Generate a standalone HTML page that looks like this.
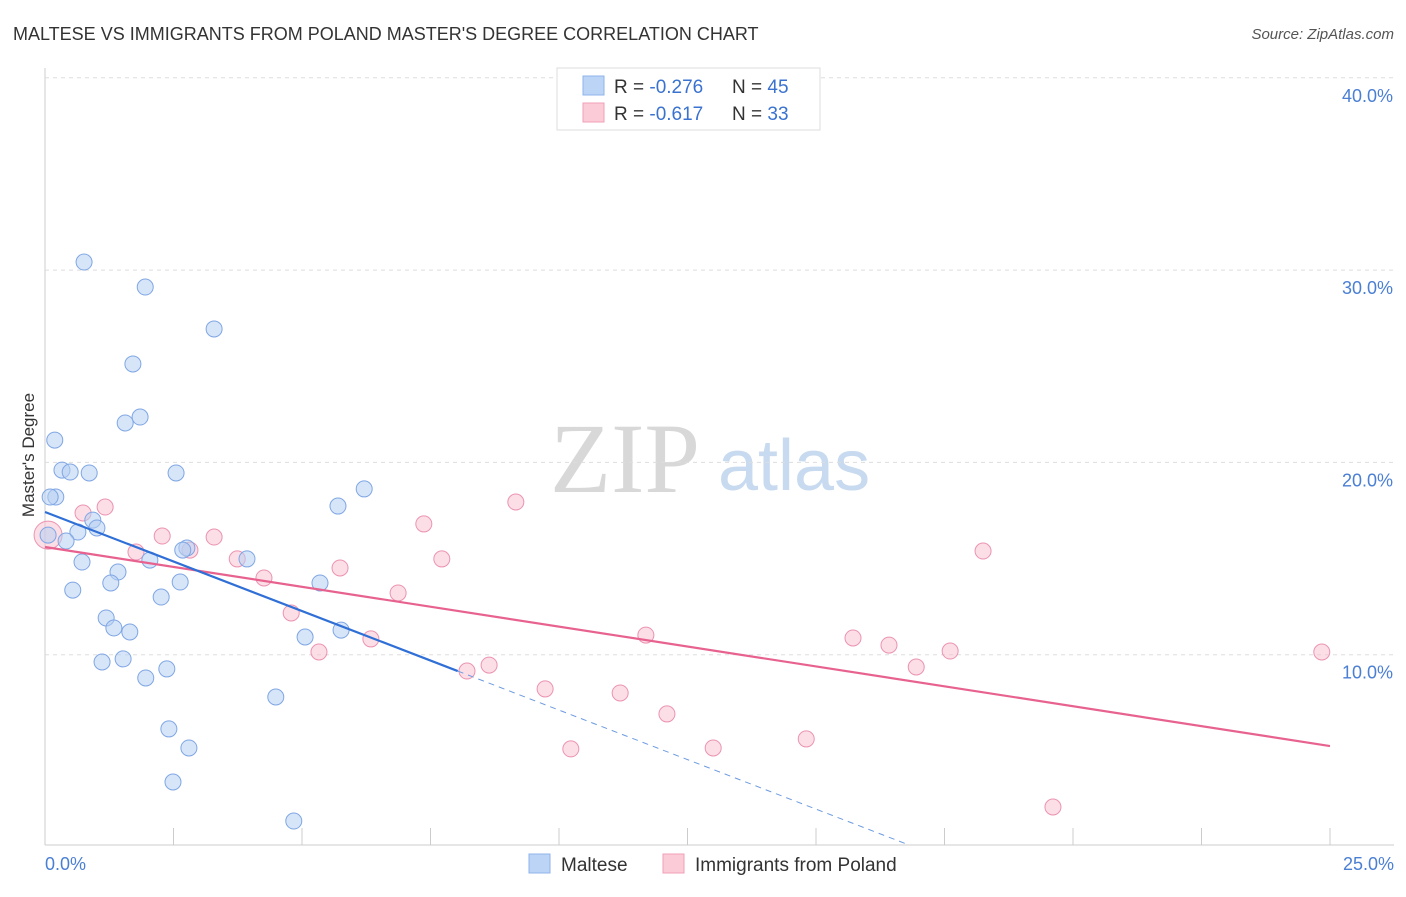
<!DOCTYPE html>
<html><head><meta charset="utf-8"><style>
body{margin:0;background:#fff;font-family:"Liberation Sans",sans-serif;}
svg text{font-family:"Liberation Sans",sans-serif;}
</style></head><body>
<svg id="chart" width="1406" height="892">
<text x="13" y="40" font-size="18" fill="#333">MALTESE VS IMMIGRANTS FROM POLAND MASTER'S DEGREE CORRELATION CHART</text>
<text x="1394" y="39" font-size="15" fill="#555" font-style="italic" text-anchor="end">Source: ZipAtlas.com</text>
<text x="700" y="492" font-size="100" fill="#d8d8d8" font-family="Liberation Serif" text-anchor="end" style="font-family:'Liberation Serif',serif">ZIP</text>
<text x="718" y="490" font-size="72" fill="#c8daf0">atlas</text>
<g id="grid"></g>
<g id="marks"></g>
<text transform="translate(34,455) rotate(-90)" font-size="17" fill="#333" text-anchor="middle">Master's Degree</text>
<text x="45" y="870" font-size="18" fill="#4a7fd4">0.0%</text>
<text x="1394" y="870" font-size="18" fill="#4a7fd4" text-anchor="end">25.0%</text>
<g>
<rect x="557" y="68" width="263" height="62" fill="#fff" stroke="#ddd"/>
<rect x="583" y="76" width="21" height="19" fill="#bcd4f5" stroke="#8fb3ea"/>
<rect x="583" y="103" width="21" height="19" fill="#fbcbd8" stroke="#f0a0b8"/>
<text x="614" y="93" font-size="19" fill="#333">R = <tspan fill="#3a72d0">-0.276</tspan></text>
<text x="732" y="93" font-size="19" fill="#333">N = <tspan fill="#3a72d0">45</tspan></text>
<text x="614" y="120" font-size="19" fill="#333">R = <tspan fill="#3a72d0"> -0.617</tspan></text>
<text x="732" y="120" font-size="19" fill="#333">N = <tspan fill="#3a72d0"> 33</tspan></text>
</g>
<g>
<rect x="529" y="854" width="21" height="19" fill="#bcd4f5" stroke="#8fb3ea"/>
<text x="561" y="871" font-size="19" fill="#333">Maltese</text></g>
<g>
<rect x="663" y="854" width="21" height="19" fill="#fbcbd8" stroke="#f0a0b8"/>
<text x="695" y="871" font-size="19" fill="#333">Immigrants from Poland</text></g>
</svg>
<script>
const yTicks=[10,20,30,40];
const yTickLabels=["10.0%","20.0%","30.0%","40.0%"];
const xTicks=[0,2.5,5,7.5,10,12.5,15,17.5,20,22.5,25];
const malteseX=[0.76,1.95,3.29,1.71,1.85,1.56,0.19,0.33,0.49,0.86,2.55,0.21,0.10,6.21,5.70,0.93,1.01,0.64,0.41,0.06,2.76,2.68,2.04,3.93,0.72,1.42,1.28,2.63,5.35,0.54,2.26,1.19,1.34,1.65,5.76,5.06,1.11,1.52,2.37,1.96,4.49,2.41,2.80,2.49,4.84];
const malteseY=[30.42,29.12,26.94,25.12,22.36,22.05,21.16,19.60,19.50,19.45,19.45,18.20,18.20,18.62,17.73,17.00,16.59,16.38,15.91,16.22,15.55,15.44,14.92,14.98,14.82,14.30,13.73,13.78,13.73,13.36,13.00,11.91,11.39,11.18,11.28,10.92,9.62,9.78,9.26,8.79,7.80,6.14,5.15,3.38,1.35];
const polandX=[0.06,0.74,1.17,2.28,3.29,1.77,2.82,3.74,4.26,5.74,4.79,5.33,6.34,6.87,7.37,7.72,9.16,8.64,8.21,9.73,10.23,11.19,12.10,11.69,13.00,14.81,15.72,16.42,16.95,17.61,18.25,19.61,24.84];
const polandY=[16.22,17.37,17.68,16.17,16.12,15.34,15.44,14.98,13.99,14.51,12.17,10.14,10.82,13.21,16.80,14.98,17.94,9.46,9.15,8.22,5.10,8.01,6.92,11.02,5.15,5.62,10.87,10.50,9.36,10.19,15.39,2.08,10.14];
const blueTrend=[17.42,-1.03]; const blueSolidEnd=8.03; const blueDashEnd=16.73;
const pinkTrend=[15.6,-0.414];
const X=v=>45+v*51.4, Y=v=>847-v*19.23;
const NS="http://www.w3.org/2000/svg";
const grid=document.getElementById('grid'), marks=document.getElementById('marks');
function mk(tag,attrs,parent){const e=document.createElementNS(NS,tag);for(const k in attrs)e.setAttribute(k,attrs[k]);parent.appendChild(e);return e;}
const ax=mk('line',{x1:45,y1:68,x2:45,y2:845,stroke:'#ccc'},grid);


const bx=mk('line',{x1:45,y1:845,x2:1394,y2:845,stroke:'#ccc'},grid);


yTicks.forEach((t,i)=>{
 const g=mk('line',{x1:45,y1:Y(t),x2:1394,y2:Y(t),stroke:'#ddd','stroke-dasharray':'4,4'},grid);
 
 
 const l=mk('text',{x:1393,y:Y(t)+24,'font-size':18,fill:'#4a7fd4','text-anchor':'end'},grid);
 l.textContent=yTickLabels[i];
 
 
});
xTicks.forEach(t=>{
 const k=mk('line',{x1:X(t),y1:828,x2:X(t),y2:845,stroke:'#ccc'},grid);
 
 
});
function dot(x,y,fill,stroke,r,name){
 const c=mk('circle',{cx:X(x),cy:Y(y),r:r,fill:fill,stroke:stroke,'stroke-width':1,'fill-opacity':0.55},marks);
 
 
}
polandX.forEach((x,i)=>dot(x,polandY[i],'#f9c3d3','#eb93b0',i===0?14:8,'poland-point'));
malteseX.forEach((x,i)=>dot(x,malteseY[i],'#b7cff3','#7fa6e4',8,'maltese-point'));
const pl=mk('line',{x1:X(0),y1:Y(pinkTrend[0]),x2:X(25),y2:Y(pinkTrend[0]+pinkTrend[1]*25),stroke:'#e8628f','stroke-width':2.2},marks);


const bl=mk('line',{x1:X(0),y1:Y(blueTrend[0]),x2:X(blueSolidEnd),y2:Y(blueTrend[0]+blueTrend[1]*blueSolidEnd),stroke:'#2f6fd6','stroke-width':2.2},marks);


const bd=mk('line',{x1:X(blueSolidEnd),y1:Y(blueTrend[0]+blueTrend[1]*blueSolidEnd),x2:X(blueDashEnd),y2:Y(blueTrend[0]+blueTrend[1]*blueDashEnd),stroke:'#6d9be0','stroke-width':1,'stroke-dasharray':'6,5'},marks);


</script>
</body></html>
